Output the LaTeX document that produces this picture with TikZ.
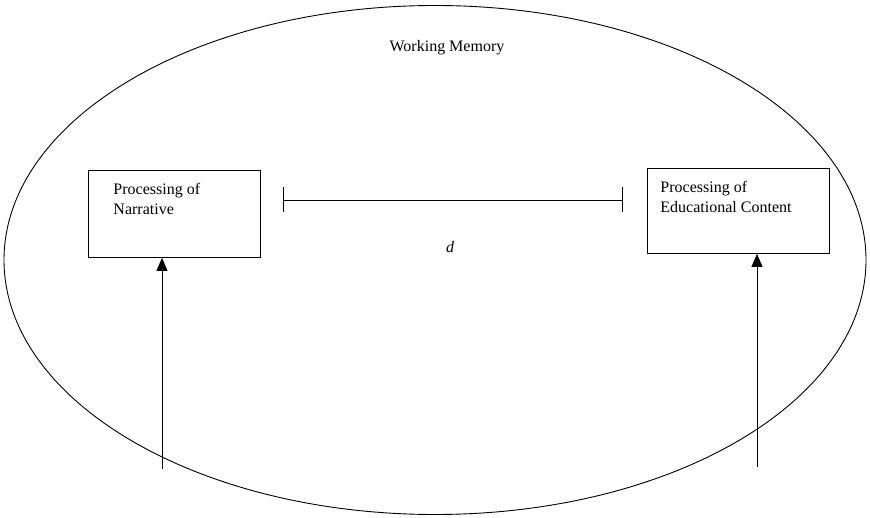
\documentclass[tikz,border=0pt]{standalone}
\usepackage{fontspec}
\setmainfont{Liberation Serif}
\usepackage{tikz}
\usetikzlibrary{arrows.meta,shapes.geometric}

\begin{document}
\begin{tikzpicture}[x=1pt,y=-1pt,line width=0.9pt,
  font=\fontsize{16}{20}\selectfont,
  procbox/.style={draw,rectangle,inner sep=0pt,anchor=north west},
  proctext/.style={anchor=north west,inner sep=0pt,align=left},
  feed/.style={-{Triangle[length=13pt,width=11pt]}},
  span/.style={{Bar[width=25pt]}-{Bar[width=25pt]}}]
\useasboundingbox (0,0) rectangle (870,518);

% working memory ellipse
\node[draw,ellipse,inner sep=0pt,minimum width=862pt,minimum height=509pt] (wm) at (435,260) {};
\node (wmlabel) at (447,48) {Working Memory};

% the two processing boxes
\node[procbox,minimum width=172pt,minimum height=87pt] (narr) at (88,170) {};
\node[proctext] (narrtext) at ([shift={(25,13)}]narr.north west) {Processing of\\Narrative};
\node[procbox,minimum width=182pt,minimum height=85pt] (edu) at (647,168) {};
\node[proctext] (edutext) at ([shift={(13,13)}]edu.north west) {Processing of\\Educational Content};

% distance between them
\coordinate (dleft) at (283,200);
\coordinate (dright) at (623,200);
\draw[span] (dleft) -- (dright);
\node (dlabel) at (450,247) {\itshape d};

% inputs from below
\coordinate (narrin) at (162,469);
\coordinate (eduin) at (757,467);
\draw[feed] (narrin) -- (narrin |- narr.south);
\draw[feed] (eduin) -- (eduin |- edu.south);
\end{tikzpicture}
\end{document}
